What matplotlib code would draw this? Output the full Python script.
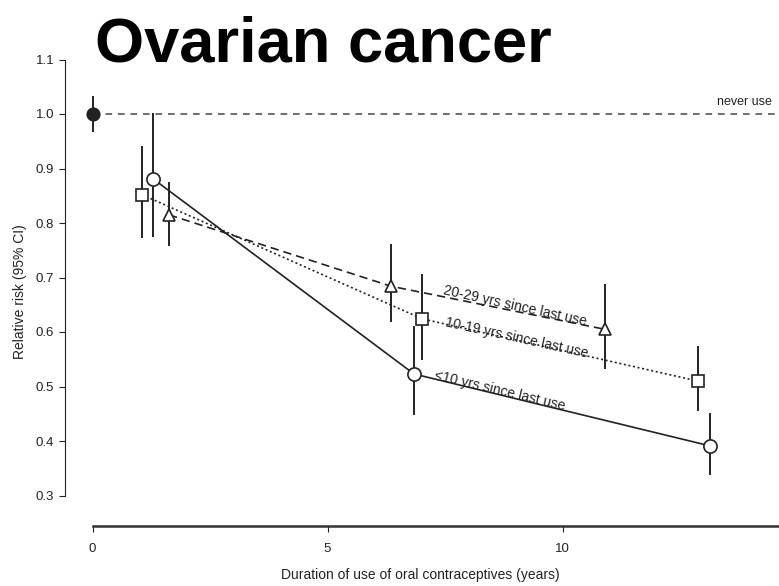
"""Ovarian cancer: relative risk vs duration of oral contraceptive use"""

import warnings
import matplotlib
matplotlib.use("Agg")
import matplotlib.pyplot as plt

warnings.filterwarnings("ignore")

plt.rcParams["font.family"] = ["Liberation Sans", "DejaVu Sans"]

# ── Data ────────────────────────────────────────────────────────────────────

NEVER_X = [0.0]
NEVER_RR = [1.0]
NEVER_LO = [0.969]
NEVER_HI = [1.031]

LT10_X = [1.29, 6.84, 13.14]
LT10_RR = [0.881, 0.523, 0.391]
LT10_LO = [0.777, 0.450, 0.340]
LT10_HI = [1.000, 0.610, 0.450]

Y10_19_X = [1.05, 7.02, 12.88]
Y10_19_RR = [0.852, 0.624, 0.510]
Y10_19_LO = [0.774, 0.550, 0.457]
Y10_19_HI = [0.939, 0.704, 0.572]

Y20_29_X = [1.63, 6.35, 10.90]
Y20_29_RR = [0.815, 0.684, 0.605]
Y20_29_LO = [0.759, 0.620, 0.534]
Y20_29_HI = [0.874, 0.759, 0.686]

X_TICKS = [0, 5, 10]
Y_TICKS = [0.3, 0.4, 0.5, 0.6, 0.7, 0.8, 0.9, 1.0, 1.1]

LABEL_LT10 = "<10 yrs since last use"
LABEL_10_19 = "10-19 yrs since last use"
LABEL_20_29 = "20-29 yrs since last use"

_INK = "#222222"


def draw_series(ax, xs, rr, lo, hi, marker, ms, ls, face="white"):
    for x, a, b in zip(xs, lo, hi):
        ax.plot([x, x], [a, b], color=_INK, lw=1.4, zorder=2, clip_on=False)
    ax.plot(xs, rr, color=_INK, lw=1.2, linestyle=ls, zorder=3)
    ax.plot(xs, rr, linestyle="none", marker=marker, ms=ms,
            mfc=face, mec=_INK, mew=1.2, zorder=4, clip_on=False)


def main() -> None:
    fig = plt.figure(figsize=(7.79, 5.86), dpi=100)
    ax = fig.add_axes([92.5 / 779, 1 - 495.5 / 586, 1 - 92.5 / 779, (495.5 - 59.5) / 586])

    ax.set_xlim(0, (779 - 92.5) / 47.0)
    ax.set_ylim(0.3, 1.1)

    # never-use reference line
    ax.plot([0, 20], [1.0, 1.0], color="#555555", lw=1.2,
            linestyle=(0, (4, 3.5)), zorder=1, clip_on=False)
    ax.text(13.28, 1.017, "never use", fontsize=9, color=_INK,
            ha="left", va="baseline", clip_on=False)

    draw_series(ax, NEVER_X, NEVER_RR, NEVER_LO, NEVER_HI, "o", 9, "-", face=_INK)
    draw_series(ax, Y20_29_X, Y20_29_RR, Y20_29_LO, Y20_29_HI, "^", 8, (0, (5, 3)))
    draw_series(ax, Y10_19_X, Y10_19_RR, Y10_19_LO, Y10_19_HI, "s", 8, (0, (1.2, 1.6)))
    draw_series(ax, LT10_X, LT10_RR, LT10_LO, LT10_HI, "o", 9.5, "-")

    ax.text(7.45, 0.669, LABEL_20_29, fontsize=10, color=_INK, rotation=-12.5,
            rotation_mode="anchor", ha="left", va="baseline")
    ax.text(7.49, 0.611, LABEL_10_19, fontsize=10, color=_INK, rotation=-12.5,
            rotation_mode="anchor", ha="left", va="baseline")
    ax.text(7.26, 0.514, LABEL_LT10, fontsize=10, color=_INK, rotation=-13.5,
            rotation_mode="anchor", ha="left", va="baseline")

    # R-style detached axes
    for side in ("top", "right"):
        ax.spines[side].set_visible(False)
    ax.spines["left"].set_position(("outward", 20))
    ax.spines["left"].set_bounds(0.3, 1.1)
    ax.spines["bottom"].set_position(("outward", 22))
    ax.spines["left"].set_color(_INK)
    ax.spines["bottom"].set_color("#333333")
    ax.spines["bottom"].set_linewidth(1.8)

    ax.set_xticks(X_TICKS)
    ax.set_yticks(Y_TICKS)
    ax.set_yticklabels([f"{v:.1f}" for v in Y_TICKS])
    ax.tick_params(axis="both", labelsize=9.5, colors=_INK, length=4)
    ax.tick_params(axis="x", pad=8)

    ax.set_xlabel("Duration of use of oral contraceptives (years)", fontsize=10,
                  color=_INK)
    ax.xaxis.set_label_coords((420 - 92.5) / 686.5, -(568 - 495.5) / 436)
    ax.set_ylabel("Relative risk (95% CI)", fontsize=10, color=_INK)
    ax.yaxis.set_label_coords((27 - 92.5) / 686.5, (495.5 - 292) / 436)

    fig.text(95 / 779, 1 - 62 / 586, "Ovarian cancer", fontsize=45.5,
             fontweight="bold", ha="left", va="baseline")

    fig.savefig("out.png", dpi=100)
    plt.close(fig)


if __name__ == "__main__":
    main()
